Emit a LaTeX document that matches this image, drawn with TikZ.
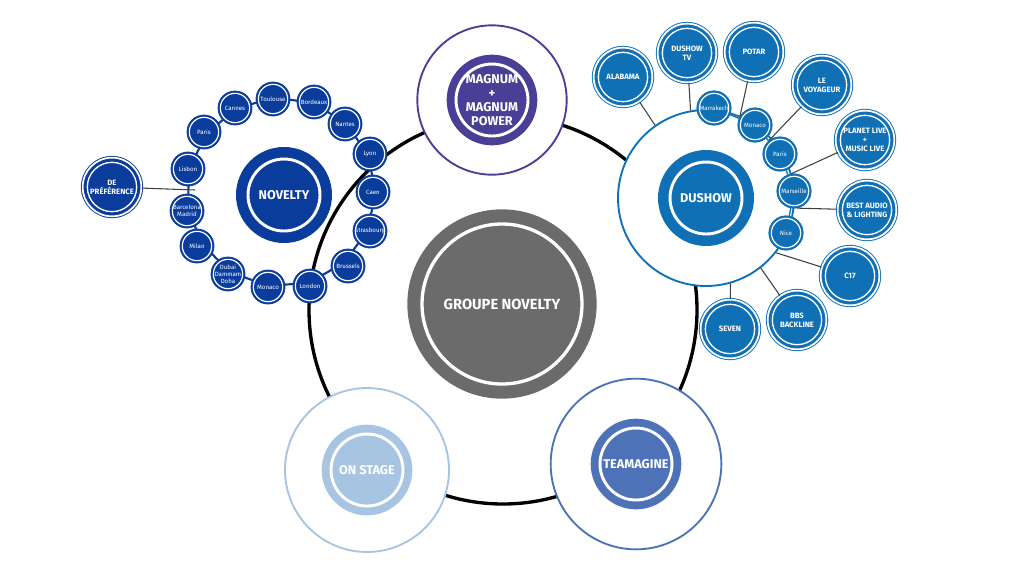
\documentclass[tikz,border=0pt]{standalone}
\usepackage{fontspec}
\setmainfont{Fira Sans}
\begin{document}
\begin{tikzpicture}[x=0.75pt,y=-0.75pt]
\definecolor{nov}{HTML}{0A3C9C}
\definecolor{dsh}{HTML}{1070B6}
\definecolor{mag}{HTML}{4A3F97}
\definecolor{team}{HTML}{4E72B8}
\definecolor{ons}{HTML}{A7C4E2}
\definecolor{grp}{HTML}{6B6B6B}
\tikzset{
 small/.style={circle,inner sep=0pt,minimum size=25.5pt,fill=#1,draw=#1,line width=0.6pt,text=white,
   font=\fontsize{4.6}{5}\selectfont,align=center,
   path picture={\draw[white,line width=0.9pt] (path picture bounding box.center) circle (11pt);}},
 outer/.style={circle,inner sep=0pt,minimum size=44pt,fill=#1,draw=#1,double=white,double distance=1.3pt,line width=0.7pt,
   text=white,font=\bfseries\fontsize{5.8}{6.6}\selectfont,align=center,
   path picture={\draw[white,line width=1pt] (path picture bounding box.center) circle (18.5pt);}},
 hub/.style={circle,inner sep=0pt,minimum size=#1,draw,line width=1.4pt,fill=white},
 core/.style={circle,inner sep=0pt,minimum size=68pt,fill=#1,text=white,font=\bfseries\fontsize{9.5}{10.5}\selectfont,align=center,
   path picture={\draw[white,line width=2.2pt] (path picture bounding box.center) circle (27pt);}},
 link/.style={line width=0.8pt,black!75},
}
\useasboundingbox (0,0) rectangle (1024,576);
% big ring
\node[circle,draw=black,line width=2.5pt,minimum size=291pt,inner sep=0pt] (ring) at (503,310) {};
% groupe
\node[circle,fill=grp,minimum size=142pt,inner sep=0pt,text=white,font=\bfseries\fontsize{11}{12}\selectfont,
  path picture={\draw[white,line width=2.5pt] (path picture bounding box.center) circle (60pt);}] (grp) at (502,304) {GROUPE NOVELTY};
% magnum
\node[hub=112pt,draw=mag] (magh) at (492,100) {};
\node[core=mag] (mag) at (492,100) {MAGNUM\\+\\MAGNUM\\POWER};
% on stage
\node[hub=123pt,draw=ons] (onsh) at (367,470) {};
\node[core=ons] (onsc) at (367,470) {ON STAGE};
% teamagine
\node[hub=128pt,draw=team] (teamh) at (636,464) {};
\node[core=team] (teamc) at (636,464) {TEAMAGINE};
% novelty
\node[circle,draw=nov,line width=1.6pt,minimum size=139pt,inner sep=0pt] (novr) at (281,192) {};
\node[outer=nov] (depref) at (112,187) {DE\\PRÉFÉRENCE};
\coordinate (novj) at (195,190);
\draw[link] (depref) -- (novj);
\node[core=nov,minimum size=72pt] (nov) at (284,195) {NOVELTY};
\foreach \n/\x/\y/\t in {a/273/99/Toulouse,b/314/102/Bordeaux,c/235/108/Cannes,d/345/124/Nantes,e/204/132/Paris,
  f/370/154/Lyon,g/188/169/Lisbon,h/373/192/Caen,i/187/211/{Barcelona\\Madrid},j/370/231/Strasbourg,k/197/246/Milan,
  l/348/266/Brussels,m/228/274/{Dubai\\Dammam\\Doha},o/268/287/Monaco,p/310/286/London}
  \node[small=nov] (nv\n) at (\x,\y) {\t};
% dushow
\node[hub=132pt,draw=dsh] (dshh) at (706,198) {};
\node[core=dsh,minimum size=72pt] (dshc) at (706,198) {DUSHOW};
\node[outer=dsh] (ala) at (623,77) {ALABAMA};
\node[outer=dsh] (dtv) at (687,53) {DUSHOW\\TV};
\node[outer=dsh] (pot) at (754,52) {POTAR};
\node[outer=dsh] (voy) at (822,85) {LE\\VOYAGEUR};
\node[outer=dsh] (pla) at (865,140) {PLANET LIVE\\+\\MUSIC LIVE};
\node[outer=dsh] (bal) at (867,210) {BEST AUDIO\\\& LIGHTING};
\node[outer=dsh] (c17) at (850,276) {C17};
\node[outer=dsh] (bbs) at (797,320) {BBS\\BACKLINE};
\node[outer=dsh] (sev) at (730,329) {SEVEN};
\draw[link] (ala) -- (dshh.125);
\draw[link] (dtv) -- (dshh.100);
\draw[link] (c17) -- (dshh.-38);
\draw[link] (bbs) -- (dshh.-52);
\draw[link] (sev) -- (dshh.-74);
\node[small=dsh] (dmk) at (714,108) {Marrakech};
\node[small=dsh] (dmo) at (755,125) {Monaco};
\node[small=dsh] (dpa) at (780,154) {Paris};
\node[small=dsh] (dma) at (794,191) {Marseille};
\node[small=dsh] (dni) at (786,233) {Nice};
\begin{scope}[on background layer/.try]\end{scope}
\draw[dsh,line width=1pt] (dmk) -- (dmo) -- (dpa) -- (dma) -- (dni);
\node[small=dsh] at (dmk) {Marrakech};
\node[small=dsh] at (dmo) {Monaco};
\node[small=dsh] at (dpa) {Paris};
\node[small=dsh] at (dma) {Marseille};
\node[small=dsh] at (dni) {Nice};
\draw[link] (pot) -- (dmo.150);
\draw[link] (voy) -- (dpa.130);
\draw[link] (pla) -- (dma.100);
\draw[link] (bal) -- (dma.-80);
\end{tikzpicture}
\end{document}
